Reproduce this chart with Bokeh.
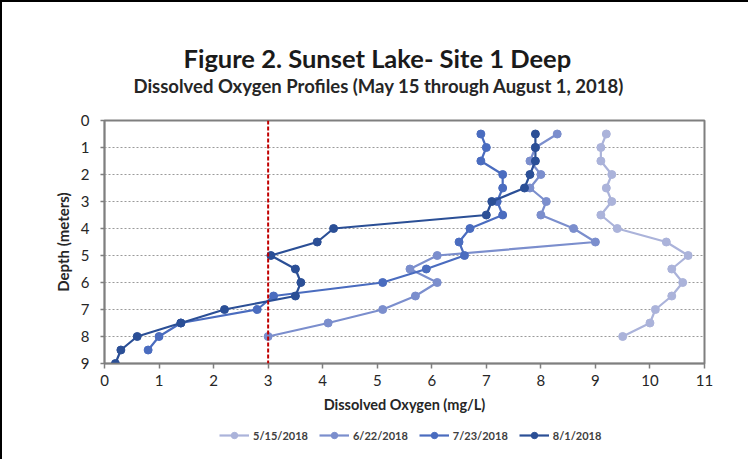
from bokeh.plotting import figure
from bokeh.layouts import column
from bokeh.models import Range1d, Span, Title, Legend, LegendItem, FixedTicker
from bokeh.embed import file_html
from bokeh.resources import INLINE

# ---- data ----
series_labels = ["5/15/2018", "6/22/2018", "7/23/2018", "8/1/2018"]

depth_0515 = [0.5, 1.0, 1.5, 2.0, 2.5, 3.0, 3.5, 4.0, 4.5, 5.0, 5.5, 6.0, 6.5, 7.0, 7.5, 8.0]
do_0515 = [9.2, 9.1, 9.1, 9.3, 9.2, 9.3, 9.1, 9.4, 10.3, 10.7, 10.4, 10.6, 10.4, 10.1, 10.0, 9.5]

depth_0622 = [0.5, 1.0, 1.5, 2.0, 2.5, 3.0, 3.5, 4.0, 4.5, 5.0, 5.5, 6.0, 6.5, 7.0, 7.5, 8.0]
do_0622 = [8.3, 7.9, 7.8, 8.0, 7.8, 8.1, 8.0, 8.6, 9.0, 6.1, 5.6, 6.1, 5.7, 5.1, 4.1, 3.0]

depth_0723 = [0.5, 1.0, 1.5, 2.0, 2.5, 3.0, 3.5, 4.0, 4.5, 5.0, 5.5, 6.0, 6.5, 7.0, 7.5, 8.0, 8.5]
do_0723 = [6.9, 7.0, 6.9, 7.3, 7.3, 7.2, 7.3, 6.7, 6.5, 6.6, 5.9, 5.1, 3.1, 2.8, 1.4, 1.0, 0.8]

depth_0801 = [0.5, 1.0, 1.5, 2.0, 2.5, 3.0, 3.5, 4.0, 4.5, 5.0, 5.5, 6.0, 6.5, 7.0, 7.5, 8.0, 8.5, 9.0]
do_0801 = [7.9, 7.9, 7.9, 7.8, 7.7, 7.1, 7.0, 4.2, 3.9, 3.05, 3.5, 3.6, 3.5, 2.2, 1.4, 0.6, 0.3, 0.2]

x_ticks = [0, 1, 2, 3, 4, 5, 6, 7, 8, 9, 10, 11]
y_ticks = [0, 1, 2, 3, 4, 5, 6, 7, 8, 9]
do_threshold = 3.0

series_colors = ["#abb3da", "#7b8ecd", "#4a6cbf", "#2b4f96"]

FONT = "Lato"

p = figure(frame_width=600, frame_height=243, output_backend="svg", toolbar_location=None,
           x_range=Range1d(0, 11), y_range=Range1d(9, 0),
           min_border_left=102, min_border_right=44, min_border_top=118, min_border_bottom=48)

p.background_fill_color = "white"
p.border_fill_color = "white"
p.outline_line_color = "#7f7f7f"
p.outline_line_width = 2

# grid
p.xgrid.visible = False
p.ygrid.grid_line_color = "#9a9a9a"
p.ygrid.grid_line_dash = "2 2"
p.ygrid.grid_line_width = 1

# axes
p.xaxis.ticker = FixedTicker(ticks=x_ticks)
p.yaxis.ticker = FixedTicker(ticks=y_ticks)
for ax in (p.xaxis[0], p.yaxis[0]):
    ax.axis_line_color = "#7f7f7f"
    ax.axis_line_width = 1.5
    ax.major_tick_line_color = "#7f7f7f"
    ax.major_tick_line_width = 1.5
    ax.major_tick_in = 0
    ax.minor_tick_line_color = None
    ax.major_label_text_font = FONT
    ax.major_label_text_font_size = "15px"
    ax.major_label_text_color = "#262626"
    ax.axis_label_text_font = FONT
    ax.axis_label_text_font_style = "bold"
    ax.axis_label_text_color = "#262626"

p.xaxis.axis_label = "Dissolved Oxygen (mg/L)"
p.xaxis.axis_label_text_font_size = "14.5px"
p.xaxis.major_tick_out = 5
p.xaxis.major_label_standoff = 6
p.xaxis.axis_label_standoff = 7

p.yaxis.axis_label = "Depth (meters)"
p.yaxis.axis_label_text_font_size = "15px"
p.yaxis.major_tick_out = 4
p.yaxis.major_label_standoff = 11
p.yaxis.axis_label_standoff = 6

# threshold line
p.add_layout(Span(location=do_threshold, dimension="height", line_color="#c00000",
                  line_dash="4 2", line_width=2))

# legend strip below the chart (proxies drawn outside its visible range)
p2 = figure(width=731, height=44, output_backend="svg", toolbar_location=None,
            x_range=Range1d(-20, -19), y_range=Range1d(-20, -19),
            min_border=0, min_border_left=0, min_border_right=0,
            min_border_top=0, min_border_bottom=0)
p2.axis.visible = False
p2.grid.visible = False
p2.outline_line_color = None
p2.background_fill_color = "white"
p2.border_fill_color = "white"

# series
series = [(depth_0515, do_0515), (depth_0622, do_0622), (depth_0723, do_0723), (depth_0801, do_0801)]
items = []
for (dep, do), lab, col in zip(series, series_labels, series_colors):
    p.line(do, dep, line_color=col, line_width=2.2)
    p.scatter(do, dep, size=8, fill_color=col, line_color=col, marker="circle")
    lr = p2.line(do, dep, line_color=col, line_width=2.2)
    sr = p2.scatter(do, dep, size=8, fill_color=col, line_color=col, marker="circle")
    items.append(LegendItem(label=lab, renderers=[lr, sr]))

legend = Legend(items=items, orientation="horizontal", location=(115, 16),
                label_text_font=FONT, label_text_font_size="11px", label_text_font_style="bold",
                label_text_color="#404040", glyph_width=30, glyph_height=16, label_height=16,
                label_standoff=4, spacing=11, border_line_color=None,
                background_fill_alpha=0, padding=6, margin=0)
p2.add_layout(legend, "center")

# titles (first added is nearest the plot)
p.add_layout(Title(text=" ", text_font=FONT, text_font_size="10px", standoff=10), "above")
p.add_layout(Title(text="Dissolved Oxygen Profiles (May 15 through August 1, 2018)",
                   text_font=FONT, text_font_size="18.5px", text_font_style="bold",
                   text_color="#262626", align="left", offset=29, standoff=0), "above")
p.add_layout(Title(text="Figure 2. Sunset Lake- Site 1 Deep",
                   text_font=FONT, text_font_size="25.5px", text_font_style="bold",
                   text_color="#1a1a1a", align="left", offset=79, standoff=-1), "above")

layout = column(p, p2, spacing=0)
layout.styles = {"border-left": "2px solid #000", "border-top": "2px solid #000",
                 "border-right": "2px solid #000"}

open("out.html", "w").write(file_html(layout, INLINE))
